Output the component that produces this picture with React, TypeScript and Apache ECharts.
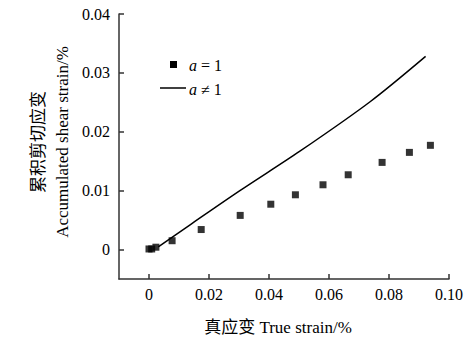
import React, { useEffect, useRef } from "react";
import * as echarts from "echarts";

const squareStrain = [0.0, 0.0009, 0.0023, 0.0077, 0.0174, 0.0304, 0.0406, 0.0488, 0.058, 0.0664, 0.0777, 0.0868, 0.0938];
const squareShear = [0.0001, 0.0001, 0.0004, 0.0015, 0.0034, 0.0058, 0.0077, 0.0093, 0.011, 0.0127, 0.0148, 0.0165, 0.0177];

const lineStrain = [0.0031, 0.0137, 0.0303, 0.0503, 0.0737, 0.0922];
const lineShear = [0.00046, 0.0042, 0.01, 0.0167, 0.0251, 0.0328];

const xTicks = [0, 0.02, 0.04, 0.06, 0.08, 0.1];
const yTicks = [0, 0.01, 0.02, 0.03, 0.04];

const FONT = "Liberation Serif, Noto Sans CJK SC, serif";
const AXIS_COLOR = "#333";

const fmt = (v: number) => (v === 0 ? "0" : v.toFixed(2));

export default function App() {
  const ref = useRef<HTMLDivElement>(null);
  useEffect(() => {
    document.body.style.margin = "0";
    if (!ref.current) return;
    const chart = echarts.init(ref.current, undefined, { renderer: "svg" });
    chart.setOption({
      animation: false,
      backgroundColor: "#fff",
      textStyle: { fontFamily: FONT },
      grid: { left: 119, right: 22, top: 14, bottom: 61 },
      xAxis: {
        type: "value",
        min: -0.01,
        max: 0.1,
        splitLine: { show: false },
        axisLine: { show: true, onZero: false, lineStyle: { color: AXIS_COLOR, width: 1.5 } },
        axisTick: { show: true, inside: true, length: 5, customValues: xTicks, lineStyle: { color: AXIS_COLOR, width: 1.5 } },
        axisLabel: { customValues: xTicks, formatter: fmt, color: "#000", fontFamily: FONT, fontSize: 16, margin: 7 },
      },
      yAxis: {
        type: "value",
        min: -0.005,
        max: 0.04,
        splitLine: { show: false },
        axisLine: { show: true, onZero: false, lineStyle: { color: AXIS_COLOR, width: 1.5 } },
        axisTick: { show: true, inside: true, length: 5, customValues: yTicks, lineStyle: { color: AXIS_COLOR, width: 1.5 } },
        axisLabel: { customValues: yTicks, formatter: fmt, color: "#000", fontFamily: FONT, fontSize: 16, margin: 9 },
      },
      series: [
        {
          type: "scatter",
          name: "a = 1",
          symbol: "rect",
          symbolSize: 7,
          itemStyle: { color: "#000" },
          data: squareStrain.map((x, i) => [x, squareShear[i]]),
        },
        {
          type: "line",
          name: "a ≠ 1",
          smooth: 0.3,
          showSymbol: false,
          symbol: "none",
          lineStyle: { color: "#000", width: 1.5 },
          data: lineStrain.map((x, i) => [x, lineShear[i]]),
        },
      ],
      graphic: [
        { type: "rect", shape: { x: 170, y: 61, width: 7, height: 7 }, style: { fill: "#000" } },
        {
          type: "text",
          x: 189,
          y: 65,
          style: {
            text: "{i|a}{n| = 1}",
            fill: "#000",
            verticalAlign: "middle",
            rich: {
              i: { fontStyle: "italic", fontFamily: FONT, fontSize: 16, fill: "#000" },
              n: { fontFamily: FONT, fontSize: 16, fill: "#000" },
            },
          },
        },
        { type: "line", shape: { x1: 160, y1: 88, x2: 186, y2: 88 }, style: { stroke: "#000", lineWidth: 1.5 } },
        {
          type: "text",
          x: 189,
          y: 89,
          style: {
            text: "{i|a}{n| ≠ 1}",
            fill: "#000",
            verticalAlign: "middle",
            rich: {
              i: { fontStyle: "italic", fontFamily: FONT, fontSize: 16, fill: "#000" },
              n: { fontFamily: FONT, fontSize: 16, fill: "#000" },
            },
          },
        },
        {
          type: "text",
          x: 50,
          y: 142,
          rotation: Math.PI / 2,
          style: {
            text: "累积剪切应变\nAccumulated shear strain/%",
            fontFamily: FONT,
            fontSize: 17,
            lineHeight: 24,
            fill: "#000",
            align: "center",
            verticalAlign: "middle",
          },
        },
        {
          type: "text",
          x: 278,
          y: 327,
          style: {
            text: "真应变 True strain/%",
            fontFamily: FONT,
            fontSize: 17,
            fill: "#000",
            align: "center",
            verticalAlign: "middle",
          },
        },
      ],
    });
    return () => chart.dispose();
  }, []);
  return <div ref={ref} style={{ width: 471, height: 340 }} />;
}
